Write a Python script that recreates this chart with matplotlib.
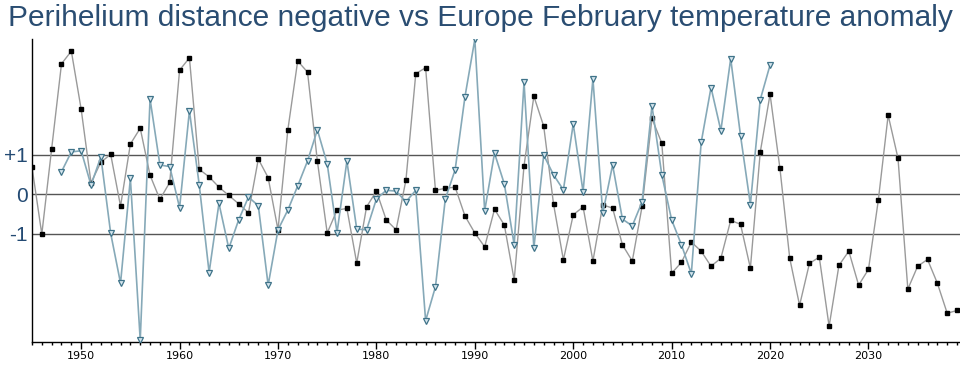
import numpy as np
import matplotlib
matplotlib.use('Agg')
import matplotlib.pyplot as plt
from matplotlib.ticker import MultipleLocator

# perihelion distance (negative), standardised, 1945-2039
peri_years = list(range(1945, 2040))
peri_vals = [
    0.69, -1.01, 1.15, 3.30, 3.62, 2.15, 0.29, 0.81, 1.01, -0.30,
    1.27, 1.67, 0.48, -0.13, 0.30, 3.14, 3.45, 0.63, 0.44, 0.18,
    -0.03, -0.24, -0.47, 0.89, 0.42, -0.90, 1.63, 3.37, 3.09, 0.84,
    -0.98, -0.40, -0.36, -1.74, -0.32, 0.08, -0.65, -0.90, 0.36, 3.05,
    3.20, 0.10, 0.15, 0.18, -0.55, -0.98, -1.33, -0.38, -0.78, -2.17,
    0.72, 2.48, 1.72, -0.25, -1.66, -0.52, -0.32, -1.69, -0.27, -0.35,
    -1.28, -1.69, -0.30, 1.92, 1.29, -2.00, -1.72, -1.21, -1.44, -1.82,
    -1.62, -0.66, -0.76, -1.87, 1.06, 2.53, 0.66, -1.62, -2.81, -1.75,
    -1.59, -3.34, -1.80, -1.44, -2.30, -1.90, -0.15, 2.00, 0.91, -2.40,
    -1.82, -1.65, -2.25, -3.01, -2.94,
]

# Europe February temperature anomaly, standardised, 1948-2020
temp_years = list(range(1948, 2021))
temp_vals = [
    0.57, 1.07, 1.10, 0.23, 0.95, -0.99, -2.25, 0.40, -3.69, 2.41,
    0.74, 0.70, -0.34, 2.11, 0.23, -1.98, -0.23, -1.37, -0.65, -0.07,
    -0.29, -2.30, -0.90, -0.40, 0.21, 0.84, 1.63, 0.77, -0.97, 0.84,
    -0.88, -0.90, -0.12, 0.10, 0.08, -0.19, 0.10, -3.20, -2.34, -0.12,
    0.62, 2.47, 3.92, -0.42, 1.04, 0.26, -1.28, 2.83, -1.36, 0.99,
    0.49, 0.11, 1.78, 0.06, 2.92, -0.48, 0.74, -0.63, -0.80, -0.19,
    2.24, 0.49, -0.65, -1.28, -2.01, 1.31, 2.70, 1.61, 3.43, 1.48,
    -0.26, 2.39, 3.27,
]

ref_levels = [-1, 0, 1]
ref_labels = ['-1', '0', '+1']

fig = plt.figure(figsize=(9.6, 3.7), dpi=100)
ax = fig.add_axes([0.0333, 0.0765, 0.9667, 0.8173])

for lv in ref_levels:
    ax.axhline(lv, color='#555555', lw=1.0, zorder=1)

ax.plot(peri_years, peri_vals, color='#9a9a9a', lw=1.0, zorder=2,
        marker='s', ms=2.2, mfc='black', mec='black')
ax.plot(temp_years, temp_vals, color='#86a9b8', lw=1.2, zorder=3,
        marker='v', ms=4.5, mfc='#d6e6ee', mec='#3f7389', mew=0.9)

ax.set_xlim(1945, 2039.3)
ax.set_ylim(-3.73, 3.92)

ax.xaxis.set_major_locator(MultipleLocator(10))
ax.xaxis.set_minor_locator(MultipleLocator(1))
ax.tick_params(axis='x', which='major', length=5, width=1, labelsize=8,
               colors='black', pad=2)
ax.tick_params(axis='x', which='minor', length=2.5, width=1)

ax.set_yticks(ref_levels)
ax.set_yticklabels(ref_labels, family='Liberation Sans')
ax.tick_params(axis='y', length=0, labelsize=15, labelcolor='#234a73', pad=3)

for s in ('top', 'right'):
    ax.spines[s].set_visible(False)
ax.spines['left'].set_linewidth(1)
ax.spines['bottom'].set_linewidth(1)

fig.text(0.5, 0.952, 'Perihelium distance negative vs Europe February temperature anomaly',
         ha='center', va='center', fontsize=21.5, color='#2a4d72',
         family='Liberation Sans')

fig.savefig('out.png', dpi=100)
